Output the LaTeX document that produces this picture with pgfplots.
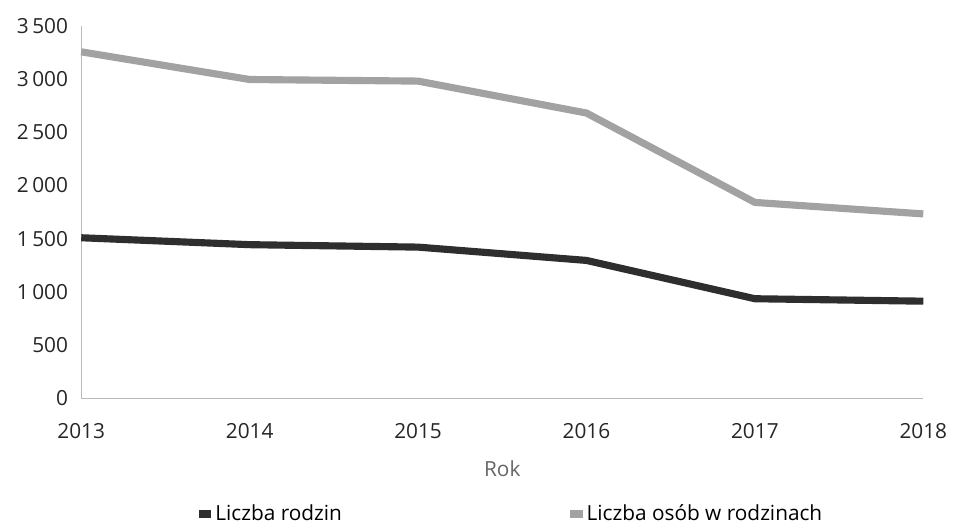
\documentclass[border=0pt]{standalone}
\usepackage{fontspec}
\setmainfont{Open Sans}
\usepackage{pgfplots}
\pgfplotsset{compat=1.18}
\definecolor{darkline}{HTML}{2E2E2E}
\definecolor{lightline}{HTML}{A2A2A2}
\begin{document}
\fontsize{10.5}{12.5}\selectfont
\begin{tikzpicture}
\begin{axis}[name=ax, width=425pt, height=188pt, scale only axis,
  xmin=2013, xmax=2018, ymin=0, ymax=3500,
  xtick={2013,2014,2015,2016,2017,2018},
  xticklabels={2013,2014,2015,2016,2017,2018},
  ytick={0,500,1000,1500,2000,2500,3000,3500},
  /pgf/number format/assume math mode=true,
  /pgf/number format/1000 sep={\,},
  axis x line=bottom, axis y line=left,
  axis line style={-, gray!55, line width=0.6pt},
  major tick length=0pt,
  yticklabel style={xshift=-3pt, text=black!85},
  xticklabel style={yshift=-9pt, text=black!85},
  xlabel={Rok}, xlabel style={text=black!60, yshift=-4pt},
  legend style={at={(0.512,-0.312)}, anchor=center, draw=none, fill=none,
    legend columns=2, /tikz/every even column/.append style={column sep=113pt}},
  legend image code/.code={\path[#1, draw=none, fill] (1pt,-2pt) rectangle (7.5pt,2.2pt);},
  clip=false,
]
\addplot[darkline, line width=3.6pt, line join=round] coordinates {
  (2013,1508) (2014,1443) (2015,1420) (2016,1295) (2017,935) (2018,912)};
\addlegendentry{Liczba rodzin}
\addplot[lightline, line width=3.6pt, line join=round] coordinates {
  (2013,3255) (2014,2995) (2015,2980) (2016,2680) (2017,1840) (2018,1732)};
\addlegendentry{Liczba osób w rodzinach}
\end{axis}
\path[use as bounding box] ([xshift=-41pt,yshift=-63pt]ax.south west) rectangle ([xshift=11pt,yshift=13pt]ax.north east);
\end{tikzpicture}
\end{document}
